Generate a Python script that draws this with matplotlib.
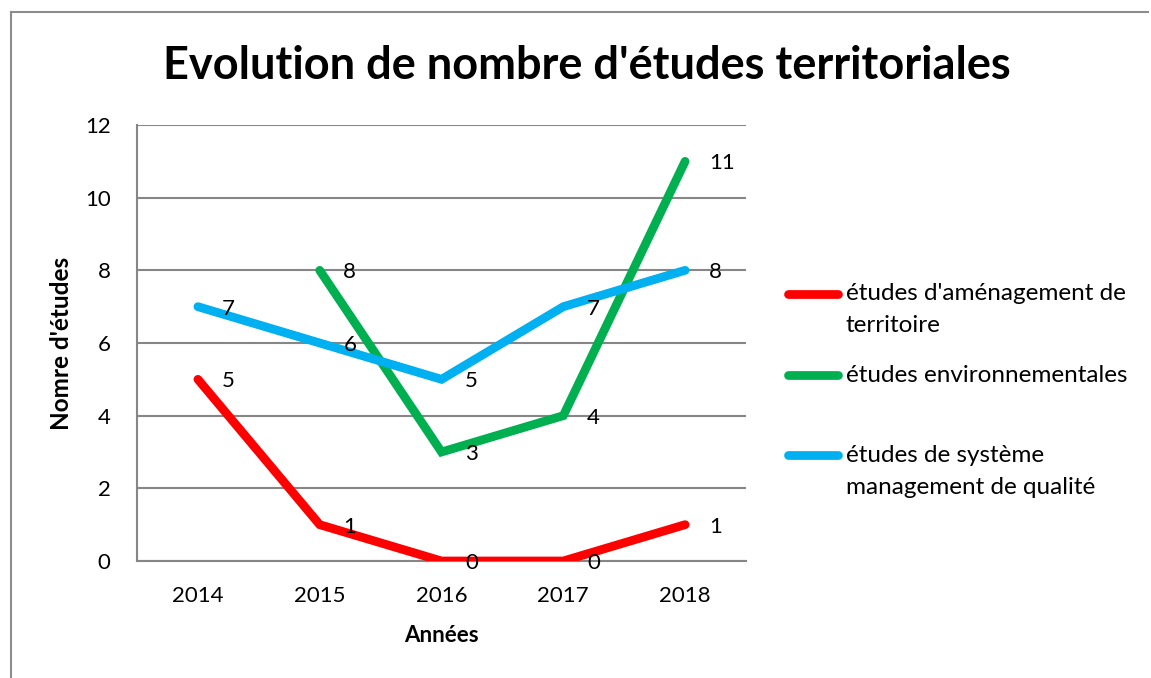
import matplotlib
matplotlib.use("Agg")
import matplotlib.pyplot as plt
import numpy as np
from matplotlib.lines import Line2D

plt.rcParams['font.family'] = ['Lato', 'DejaVu Sans']

years = ["2014", "2015", "2016", "2017", "2018"]
amenagement = [5, 1, 0, 0, 1]
environnement = [np.nan, 8, 3, 4, 11]
qualite = [7, 6, 5, 7, 8]

series_names = ["études d'aménagement de\nterritoire",
                "études environnementales",
                "études de système\nmanagement de qualité"]
colors = ["#FF0000", "#00B050", "#00B0F0"]

title = "Evolution de nombre d'études territoriales"
xlabel = "Années"
ylabel = "Nomre d'études"

W, H = 1151, 678
FS = 16
fig = plt.figure(figsize=(W / 100, H / 100), dpi=100)

# chart frame (left, top)
fig.add_artist(Line2D([11 / W, 11 / W], [0, 1 - 12 / H], transform=fig.transFigure,
                      color="#8c8c8c", lw=1.5))
fig.add_artist(Line2D([11 / W, 1 - 3 / W], [1 - 12 / H, 1 - 12 / H], transform=fig.transFigure,
                      color="#8c8c8c", lw=1.5))

left, right, top, bottom = 137, 746, 125, 561
ax = fig.add_axes([left / W, 1 - bottom / H, (right - left) / W, (bottom - top) / H])

x = np.arange(len(years))
data = [amenagement, environnement, qualite]
handles = []
for i, (vals, c, name) in enumerate(zip(data, colors, series_names)):
    h, = ax.plot(x, vals, color=c, lw=6.3, solid_capstyle="round", solid_joinstyle="miter",
                 label=name, zorder=3 + i)
    handles.append(h)

for vals in data:
    for xi, v in zip(x, vals):
        if np.isnan(v):
            continue
        ax.annotate(f"{int(v)}", (xi, v), xytext=(17, -1.5), textcoords="offset points",
                    ha="left", va="center", fontsize=FS, color="black", zorder=10)

ax.set_xlim(-0.5, len(years) - 0.5)
ax.set_ylim(0, 12)
ax.set_yticks(range(0, 13, 2))
ax.set_xticks(x)
ax.set_xticklabels(years)
ax.tick_params(axis="both", length=0, labelsize=FS)
ax.tick_params(axis="y", pad=19)
ax.tick_params(axis="x", pad=18)
ax.grid(axis="y", color="#868686", lw=1.5)
ax.set_axisbelow(True)
for s in ["top", "right"]:
    ax.spines[s].set_visible(False)
for s in ["left", "bottom"]:
    ax.spines[s].set_color("#868686")
    ax.spines[s].set_linewidth(1.5)

ax.set_xlabel(xlabel, fontsize=FS, fontweight="bold")
ax.set_ylabel(ylabel, fontsize=17.5, fontweight="bold")
ax.xaxis.set_label_coords((441 - left) / (right - left), -(636 - bottom) / (bottom - top))
ax.yaxis.set_label_coords(-(137 - 62) / (right - left), 0.5)
ax.xaxis.label.set_va("center")
ax.yaxis.label.set_va("center")

fig.text(0.51, 1 - 66 / H, title, ha="center", va="center", fontsize=32.5, fontweight="bold")

# legend (Excel style: marker aligned with first text line)
leg_first_y = [294, 375, 455]
line_step = 32
for name, c, y0 in zip(series_names, colors, leg_first_y):
    fig.add_artist(Line2D([788 / W, 838 / W], [1 - y0 / H, 1 - y0 / H], transform=fig.transFigure,
                          color=c, lw=6.3, solid_capstyle="round"))
    for k, line in enumerate(name.split("\n")):
        fig.text(846 / W, 1 - (y0 + k * line_step) / H, line, ha="left", va="center",
                 fontsize=17.5, color="black")

fig.savefig("out.png", dpi=100, facecolor="white")
